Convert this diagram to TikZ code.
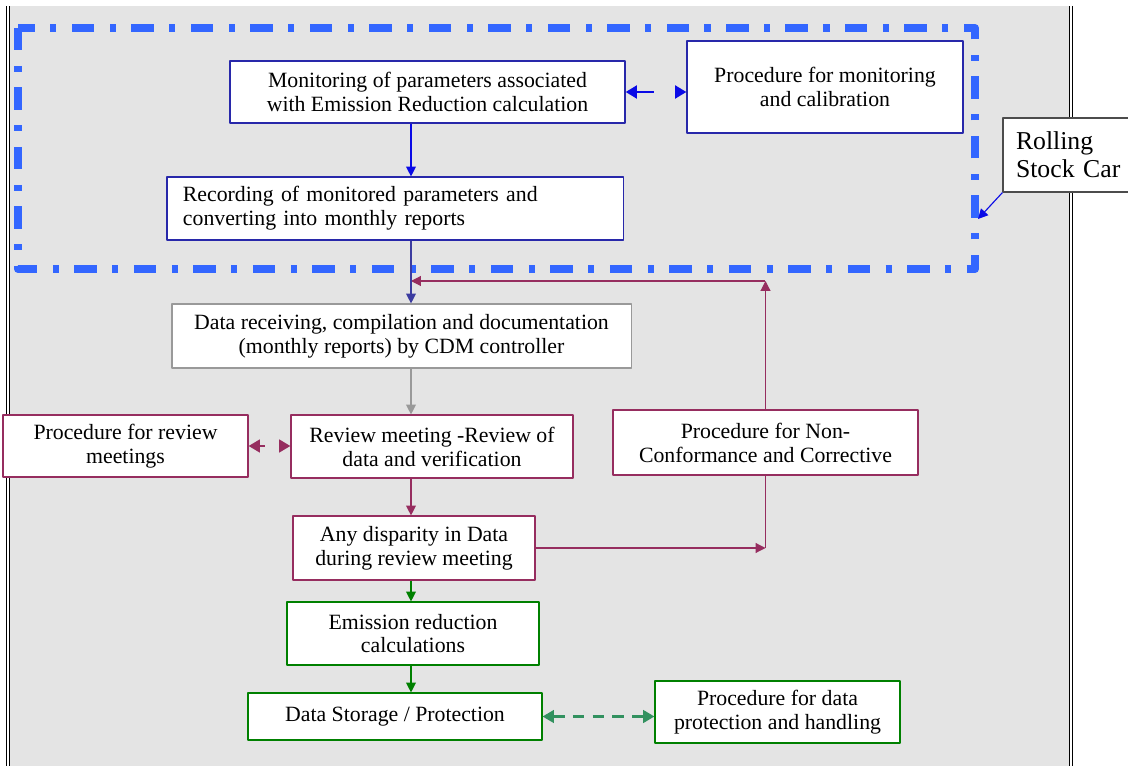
\documentclass[tikz,border=0pt]{standalone}
\usepackage{fontspec}
\setmainfont{Liberation Serif}
\usetikzlibrary{arrows.meta}

\definecolor{frameblue}{RGB}{51,102,255}
\definecolor{boxblue}{RGB}{40,40,170}
\definecolor{arrblue}{RGB}{10,10,230}
\definecolor{navyline}{RGB}{60,60,160}
\definecolor{plum}{RGB}{150,45,95}
\definecolor{boxgreen}{RGB}{0,128,0}
\definecolor{dashgreen}{RGB}{50,145,95}
\definecolor{bggray}{RGB}{228,228,228}

\tikzset{
  box/.style={draw, fill=white, line width=0.8pt, align=center, inner sep=0pt,
    font=\fontsize{15.5}{17}\selectfont, text=black},
  bluebox/.style={box, draw=boxblue},
  plumbox/.style={box, draw=plum},
  greenbox/.style={box, draw=boxgreen},
  graybox/.style={box, draw=black!40},
  link/.style={line width=0.8pt},
  twoway/.style={<->, >={Triangle[length=8pt,width=9pt]}}
}

\begin{document}
\begin{tikzpicture}[x=0.025cm, y=-0.025cm, line join = round, >={Triangle[length=7pt,width=7pt]}]
		\useasboundingbox (0,0) rectangle (1128,766);
		% page background and side rules
		\fill [bggray] (8,6) rectangle (1071,766);
		\draw [double, double distance=1pt, line width=0.7pt] (8,6) -- (8,766);
		\draw [double, double distance=1pt, line width=0.7pt] (1071,6) -- (1071,766);
		\coordinate (spine) at (411,0);
		\coordinate (fbtop) at (765,281);
		\coordinate (rsctip) at (978,219);

		% Rolling stock car frame
		\draw [frameblue, line width=5.7pt, dash pattern=on 16pt off 11pt on 4.3pt off 11pt] (18,28) rectangle (975,269);

		% Monitoring of parameters
		\node [bluebox, minimum width=9.875cm, minimum height=1.55cm] (mon) at (427.5,92) {Monitoring of parameters associated\\with Emission Reduction calculation};
		% Procedure for monitoring
		\node [bluebox, minimum width=6.9cm, minimum height=2.3cm] (procmon) at (825,87) {Procedure for monitoring\\and calibration};
		% Recording of parameters
		\node [bluebox, align=left, text width=10.6cm, inner xsep=0.4cm, minimum height=1.575cm] (rec) at (395,208.5) {Recording of monitored parameters and\\converting into monthly reports};
		% label of the frame
		\node [box, draw=black!70, align=left, text width=3cm, inner xsep=0.325cm, minimum height=1.85cm, font=\fontsize{18.3}{20}\selectfont] (rsc) at (1076,155) {Rolling\\Stock Car};

		% Data receiving
		\node [graybox, minimum width=11.475cm, minimum height=1.6cm] (recv) at (401.5,336) {Data receiving, compilation and documentation\\(monthly reports) by CDM controller};
		% Review meeting and its procedure
		\node [plumbox, minimum width=6.125cm, minimum height=1.55cm] (revproc) at (125.5,446) {Procedure for review\\meetings};
		\node [plumbox, minimum width=7.05cm, minimum height=1.575cm] (revmeet) at (432,446.5) {Review meeting -Review of\\data and verification};
		% Non-conformance
		\node [plumbox, minimum width=7.625cm, minimum height=1.625cm] (noncon) at (765.5,442.5) {Procedure for Non-\\Conformance and Corrective};
		% Disparity
		\node [plumbox, minimum width=6.05cm, minimum height=1.6cm] (disp) at (414,548) {Any disparity in Data\\during review meeting};
		% Emission reduction
		\node [greenbox, minimum width=6.3cm, minimum height=1.575cm] (emis) at (413,633.5) {Emission reduction\\calculations};
		% Data storage and its procedure
		\node [greenbox, minimum width=7.35cm, minimum height=1.175cm] (store) at (395,716.5) {Data Storage / Protection};
		\node [greenbox, minimum width=6.125cm, minimum height=1.55cm] (dprot) at (777.5,712) {Procedure for data\\protection and handling};

		% arrows inside the frame
		\draw [link, ->, arrblue] (mon.south -| spine) -- (rec.north -| spine);
		\draw [twoway, arrblue, line width=2pt, dash pattern=on 13pt off 20pt] (mon.east) -- (mon.east -| procmon.west);
		\draw [link, ->, arrblue] (rsc.south west) -- (rsctip);

		% feedback from non-conformance
		\draw [link, ->, plum] (noncon.north) -- (noncon.north |- fbtop);
		\draw [link, ->, plum] (fbtop) -- (spine |- fbtop);
		\draw [link, ->, navyline] (rec.south -| spine) -- (recv.north -| spine);

		% review chain
		\draw [link, ->, black!40] (recv.south -| spine) -- (revmeet.north -| spine);
		\draw [twoway, plum, line width=1.8pt, dash pattern=on 4pt off 30pt] (revproc.east) -- (revproc.east -| revmeet.west);
		\draw [link, ->, plum] (revmeet.south -| spine) -- (disp.north -| spine);
		\draw [link, ->, plum] (disp.east) -- (noncon.south |- disp.east);
		\draw [link, plum] (noncon.south) -- (noncon.south |- disp.east);

		% calculation and storage
		\draw [link, ->, boxgreen] (disp.south -| spine) -- (emis.north -| spine);
		\draw [link, ->, boxgreen] (emis.south -| spine) -- (store.north -| spine);
		\draw [twoway, dashgreen, line width=1.6pt, dash pattern=on 8pt off 6pt] (store.east) -- (store.east -| dprot.west);
	\end{tikzpicture}
\end{document}
